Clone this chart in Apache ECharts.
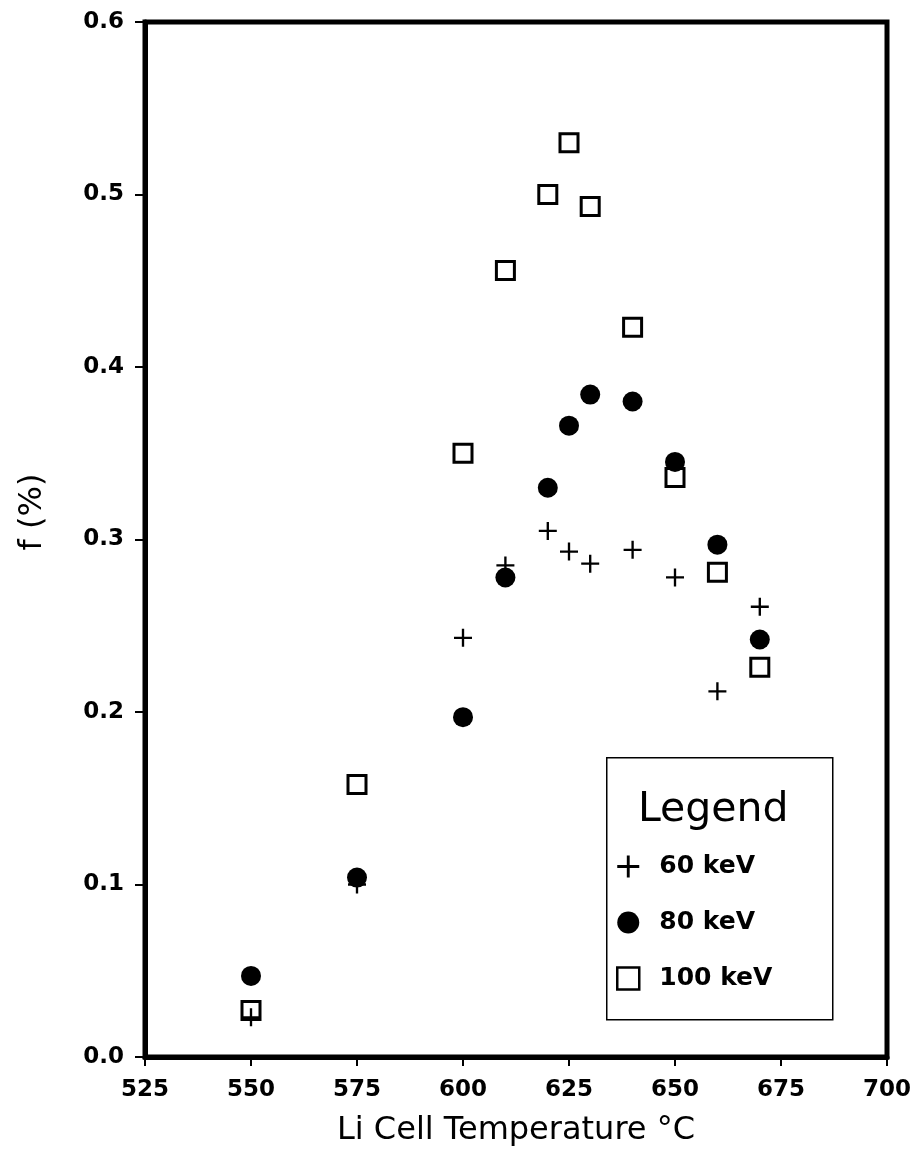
<!DOCTYPE html>
<html>
<head>
<meta charset="utf-8">
<script src="https://cdn.jsdelivr.net/npm/echarts@6/dist/echarts.min.js"></script>
<style>
  html, body { margin: 0; padding: 0; background: #fff; }
  #chart { width: 923px; height: 1154px; }
</style>
</head>
<body>
<div id="chart"></div>
<script>
// Li cell temperature (°C) at which each fraction was measured
const temperatures = [550, 575, 600, 610, 620, 625, 630, 640, 650, 660, 670];

// f (%) for each beam energy
const f60keV  = [0.023, 0.100, 0.243, 0.285, 0.305, 0.293, 0.286, 0.294, 0.278, 0.212, 0.261];
const f80keV  = [0.047, 0.104, 0.197, 0.278, 0.330, 0.366, 0.384, 0.380, 0.345, 0.297, 0.242];
const f100keV = [0.027, 0.158, 0.350, 0.456, 0.500, 0.530, 0.493, 0.423, 0.336, 0.281, 0.226];

const xTicks = [525, 550, 575, 600, 625, 650, 675, 700];
const yTicks = [0.0, 0.1, 0.2, 0.3, 0.4, 0.5, 0.6];

const seriesNames = ['60 keV', '80 keV', '100 keV'];

const pair = (ys) => temperatures.map((t, i) => [t, ys[i]]);

// plus sign drawn as a filled cross
const plusPath = 'path://M-1.3,-10H1.3V-1.3H10V1.3H1.3V10H-1.3V1.3H-10V-1.3H-1.3Z';

const FONT = '"DejaVu Sans", "Noto Sans", sans-serif';

const chart = echarts.init(document.getElementById('chart'), null, { renderer: 'canvas' });

chart.setOption({
  animation: false,
  backgroundColor: '#fff',
  grid: {
    left: 145, right: 36, top: 22, bottom: 97,
    show: true, borderColor: '#000', borderWidth: 5, backgroundColor: 'transparent'
  },
  xAxis: {
    type: 'value',
    min: xTicks[0], max: xTicks[xTicks.length - 1], interval: 25,
    name: 'Li Cell Temperature °C',
    nameLocation: 'middle', nameGap: 58,
    nameTextStyle: { fontFamily: FONT, fontSize: 32, color: '#000' },
    axisLine: { show: true, lineStyle: { color: '#000', width: 5 } },
    axisTick: { show: true, length: 9, inside: false, lineStyle: { color: '#000', width: 2 } },
    axisLabel: { fontFamily: FONT, fontSize: 23, fontWeight: 'bold', color: '#000', margin: 22 },
    splitLine: { show: false }
  },
  yAxis: {
    type: 'value',
    min: yTicks[0], max: yTicks[yTicks.length - 1], interval: 0.1,
    axisLine: { show: true, lineStyle: { color: '#000', width: 5 } },
    axisTick: { show: true, length: 10, inside: false, lineStyle: { color: '#000', width: 2 } },
    axisLabel: {
      fontFamily: FONT, fontSize: 23, fontWeight: 'bold', color: '#000', margin: 21,
      formatter: (v) => v.toFixed(1)
    },
    splitLine: { show: false }
  },
  legend: {
    orient: 'vertical',
    left: 606, top: 757,
    padding: [97, 10, 10, 10],
    itemGap: 31,
    itemWidth: 22, itemHeight: 22,
    backgroundColor: 'transparent',
    textStyle: { fontFamily: FONT, fontSize: 25, fontWeight: 'bold', color: '#000', padding: [0, 0, 0, 15] },
    data: [
      { name: seriesNames[0], icon: plusPath, itemStyle: { color: '#000', opacity: 1 } },
      { name: seriesNames[1], icon: 'circle', itemStyle: { color: '#000', opacity: 1 } },
      { name: seriesNames[2], icon: 'rect', itemStyle: { color: '#fff', borderColor: '#000', borderWidth: 2.5, opacity: 1 } }
    ]
  },
  graphic: [
    {
      type: 'rect', left: 606, top: 757, z: 0,
      shape: { width: 226, height: 262 },
      style: { fill: '#fff', stroke: '#000', lineWidth: 1.5 }
    },
    {
      type: 'text', left: 638, top: 790, z: 100,
      style: { text: 'Legend', fontFamily: FONT, fontSize: 41, fill: '#000' }
    },
    {
      type: 'text', x: 33, y: 512, rotation: Math.PI / 2, z: 100,
      style: {
        text: 'f (%)', fontFamily: FONT, fontSize: 32, fill: '#000',
        align: 'center', verticalAlign: 'middle'
      }
    }
  ],
  series: [
    {
      name: seriesNames[2], type: 'scatter', z: 2,
      symbol: 'rect', symbolSize: 18,
      itemStyle: { color: 'rgba(255,255,255,0)', borderColor: '#000', borderWidth: 3, opacity: 1 },
      data: pair(f100keV)
    },
    {
      name: seriesNames[0], type: 'scatter', z: 3,
      symbol: plusPath, symbolSize: 18,
      itemStyle: { color: '#000', opacity: 1 },
      data: pair(f60keV)
    },
    {
      name: seriesNames[1], type: 'scatter', z: 4,
      symbol: 'circle', symbolSize: 20,
      itemStyle: { color: '#000', opacity: 1 },
      data: pair(f80keV)
    }
  ]
});
</script>
</body>
</html>
